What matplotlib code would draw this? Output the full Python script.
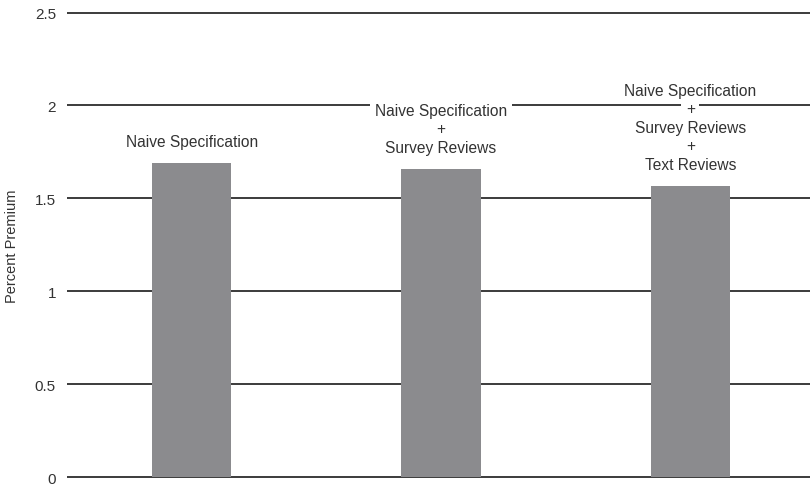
import matplotlib
matplotlib.use("Agg")
import matplotlib.pyplot as plt

categories = [
    ["Naive Specification"],
    ["Naive Specification", "+", "Survey Reviews"],
    ["Naive Specification", "+", "Survey Reviews", "+", "Text Reviews"],
]
values = [1.69, 1.658, 1.565]
yticks = [0, 0.5, 1, 1.5, 2, 2.5]
ytick_labels = ["0", "0.5", "1", "1.5", "2", "2.5"]

plt.rcParams['font.family'] = ['Liberation Sans', 'DejaVu Sans']
text_color = "#333333"

fig = plt.figure(figsize=(8.1, 4.85), dpi=100)
ax = fig.add_axes([0.0827, 0.0062, 0.9173, 0.9736])

x = list(range(len(values)))
ax.bar(x, values, width=0.317, color="#8b8b8e", zorder=2)

for yv in yticks:
    ax.axhline(yv, color="#1a1a1a", lw=1.2, zorder=1)

for xi, v, lines in zip(x, values, categories):
    for k, line in enumerate(reversed(lines)):
        ax.annotate(line, xy=(xi, v), xytext=(0, 22 + 18.5 * k),
                    textcoords="offset pixels", ha="center", va="center",
                    fontsize=11.2, color=text_color, zorder=3,
                    bbox=dict(boxstyle="square,pad=0.3", fc="white", ec="none"))

ax.set_xlim(-0.5, 2.48)
ax.set_ylim(-0.02, 2.52)
ax.set_yticks(yticks)
ax.set_yticklabels(ytick_labels, fontsize=11, color=text_color)
ax.set_xticks([])
ax.tick_params(axis="y", length=0, pad=8)
for s in ax.spines.values():
    s.set_visible(False)
ax.set_ylabel("Percent Premium", fontsize=10.5, color=text_color, labelpad=11)

fig.savefig("out.png", dpi=100)
